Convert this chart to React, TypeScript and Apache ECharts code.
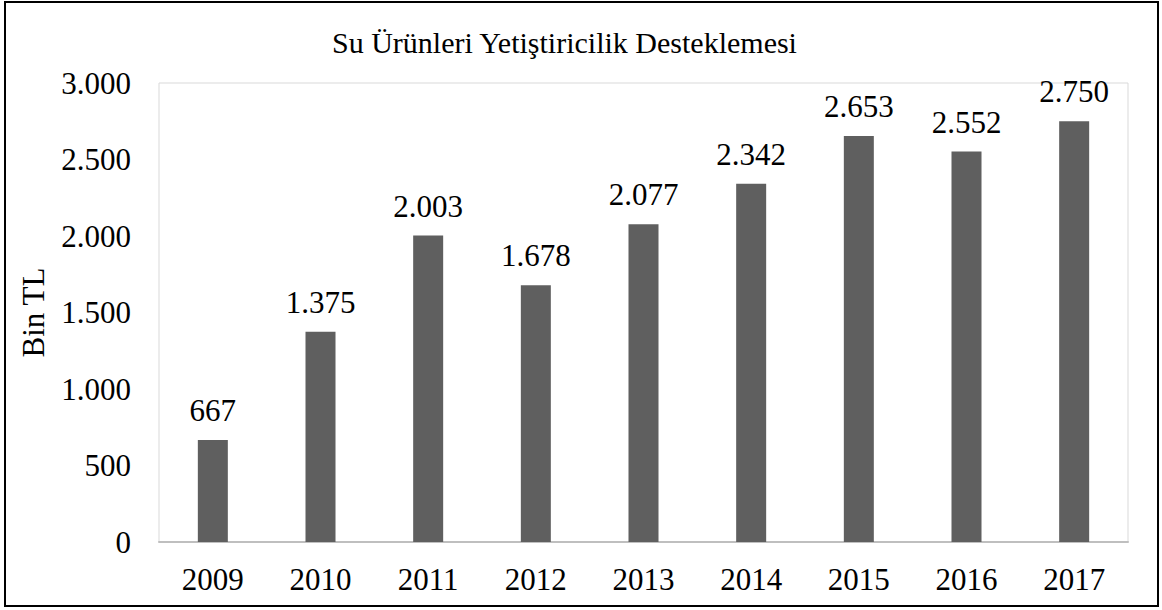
import React, { useEffect, useRef } from "react";
import * as echarts from "echarts";

const titleText = "Su Ürünleri Yetiştiricilik Desteklemesi";
const yAxisName = "Bin TL";
const years = ["2009", "2010", "2011", "2012", "2013", "2014", "2015", "2016", "2017"];
const values = [667, 1375, 2003, 1678, 2077, 2342, 2653, 2552, 2750];

const fmt = (v: number) => String(v).replace(/\B(?=(\d{3})+(?!\d))/g, ".");
const FONT = "Liberation Serif";

export default function App() {
  const ref = useRef<HTMLDivElement>(null);
  useEffect(() => {
    if (!ref.current) return;
    const chart = echarts.init(ref.current, undefined, { renderer: "svg" });
    chart.setOption({
      animation: false,
      backgroundColor: "#ffffff",
      textStyle: { fontFamily: FONT },
      graphic: [
        {
          type: "rect",
          shape: { x: 5, y: 2, width: 1153, height: 604 },
          style: { fill: "none", stroke: "#000000", lineWidth: 2 },
          silent: true,
        },
        {
          type: "text",
          left: 332,
          top: 27,
          style: { text: titleText, fontSize: 30, fontFamily: FONT, fill: "#000000" },
        },
      ],
      grid: {
        left: 159,
        top: 83,
        right: 34,
        bottom: 68,
        show: true,
        borderColor: "#d9d9d9",
        borderWidth: 1,
      },
      xAxis: {
        type: "category",
        data: years,
        axisLine: { show: true, lineStyle: { color: "#bfbfbf", width: 2 } },
        axisTick: { show: false },
        axisLabel: { color: "#000000", fontSize: 31, fontFamily: FONT, margin: 22 },
      },
      yAxis: {
        type: "value",
        min: 0,
        max: 3000,
        interval: 500,
        name: yAxisName,
        nameLocation: "middle",
        nameGap: 110,
        nameRotate: 90,
        nameTextStyle: { color: "#000000", fontSize: 31, fontFamily: FONT },
        axisLine: { show: false },
        axisTick: { show: false },
        splitLine: { show: false },
        axisLabel: {
          color: "#000000",
          fontSize: 31,
          fontFamily: FONT,
          margin: 28,
          formatter: (v: number) => fmt(v),
        },
      },
      series: [
        {
          type: "bar",
          data: values,
          barWidth: 30,
          itemStyle: { color: "#5f5f5f" },
          label: {
            show: true,
            position: "top",
            distance: 14,
            color: "#000000",
            fontSize: 31,
            fontFamily: FONT,
            formatter: (p: any) => fmt(p.value),
          },
        },
      ],
    });
    return () => chart.dispose();
  }, []);
  return (
    <div
      ref={ref}
      style={{ position: "absolute", left: 0, top: 0, width: 1162, height: 610 }}
    />
  );
}
